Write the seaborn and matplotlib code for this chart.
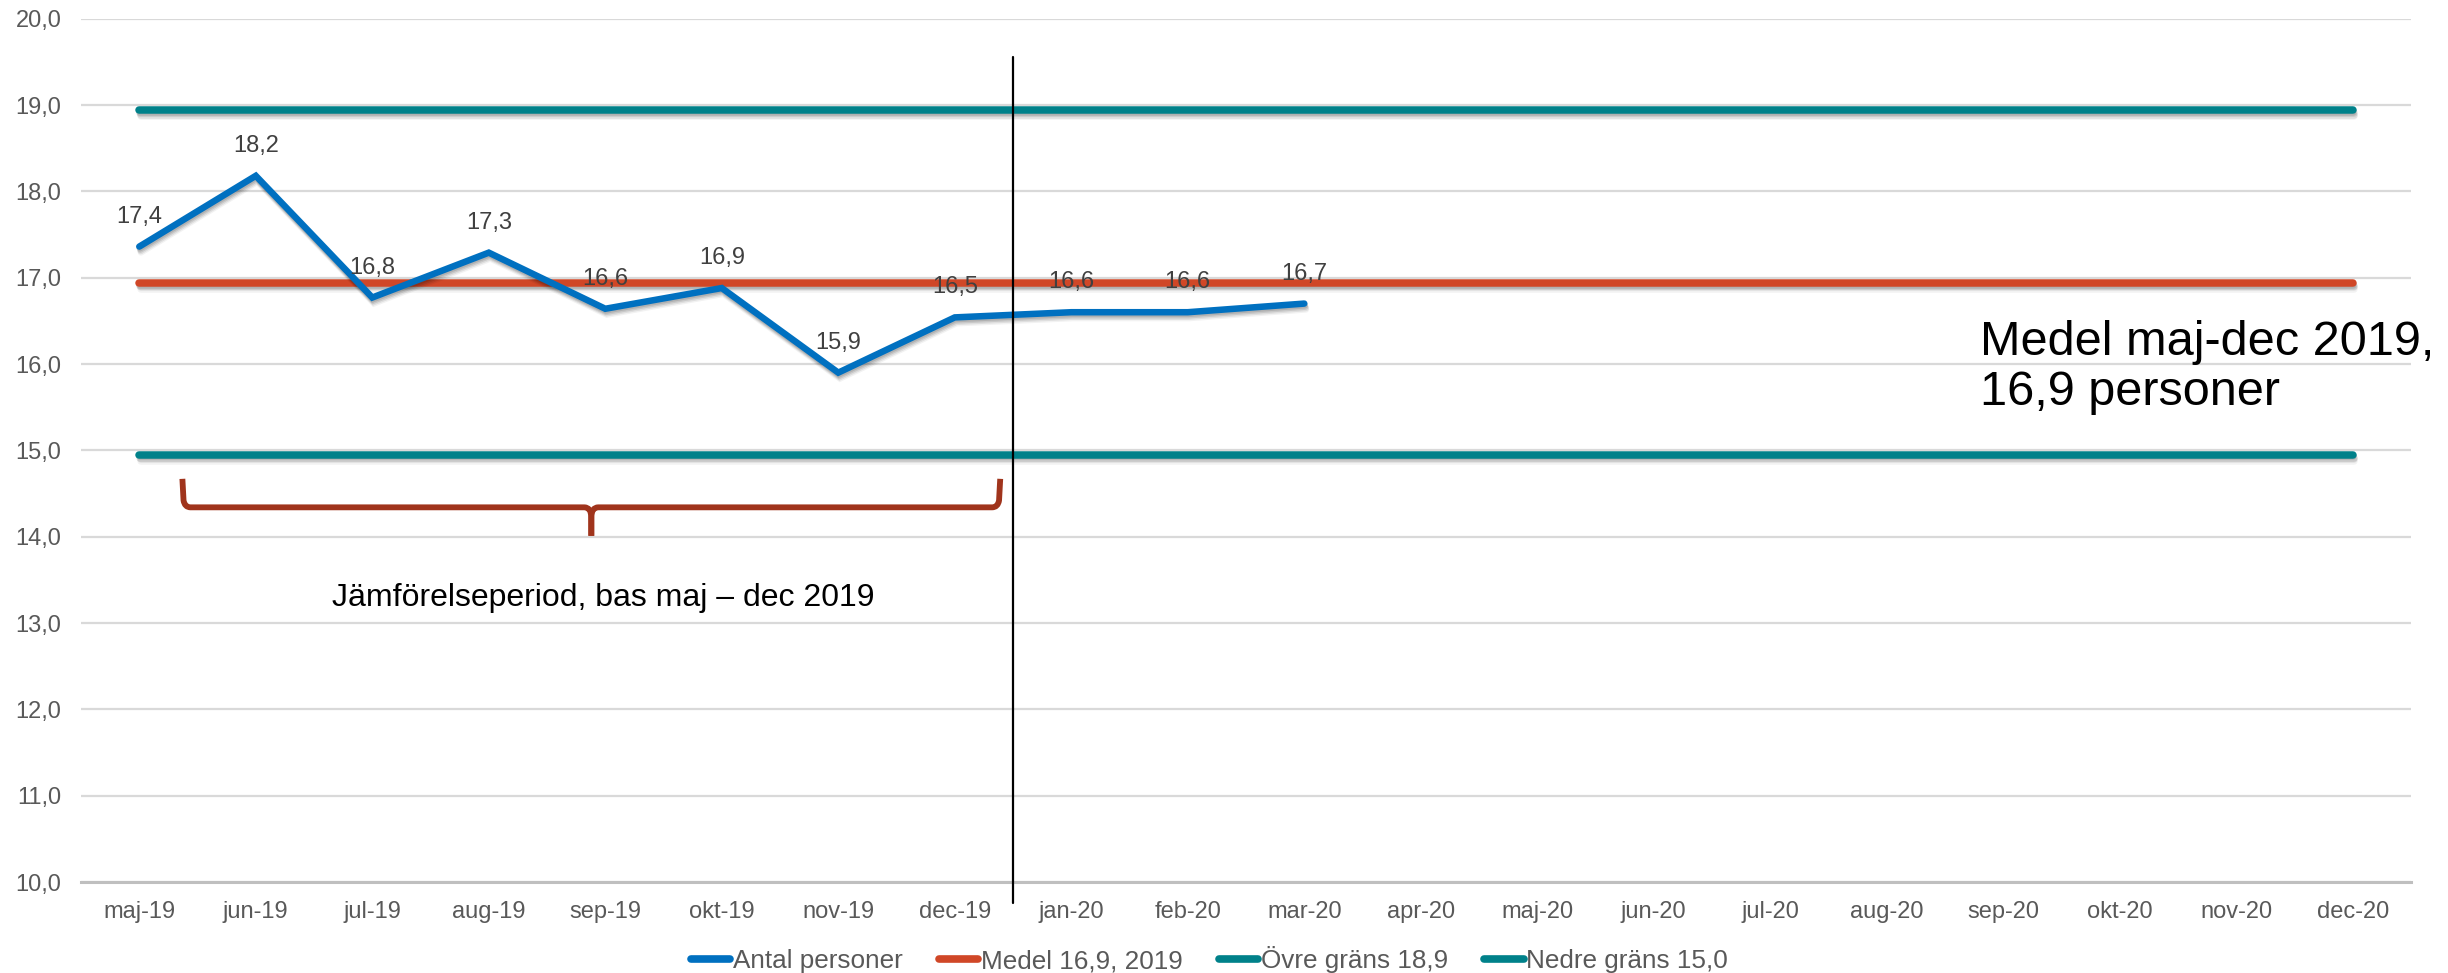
import numpy as np
import pandas as pd
import matplotlib
matplotlib.use("Agg")
import matplotlib.pyplot as plt
import matplotlib.patheffects as pe
from matplotlib.path import Path
from matplotlib.patches import PathPatch
from matplotlib.lines import Line2D
import seaborn as sns

# ---- data ----
months = ["maj-19", "jun-19", "jul-19", "aug-19", "sep-19", "okt-19", "nov-19", "dec-19",
          "jan-20", "feb-20", "mar-20", "apr-20", "maj-20", "jun-20", "jul-20", "aug-20",
          "sep-20", "okt-20", "nov-20", "dec-20"]
antal = [17.36, 18.18, 16.77, 17.29, 16.64, 16.88, 15.90, 16.54, 16.60, 16.60, 16.70]
medel = 16.94
ovre = 18.94
nedre = 14.95
series_names = ["Antal personer", "Medel 16,9, 2019", "Övre gräns 18,9", "Nedre gräns 15,0"]
yticks = [10, 11, 12, 13, 14, 15, 16, 17, 18, 19, 20]
brace_text = "Jämförelseperiod, bas maj – dec 2019"
medel_text = "Medel maj-dec 2019,\n16,9 personer"

# ---- style ----
sns.set_theme(style="white")
plt.rcParams['font.family'] = ['Liberation Sans', 'DejaVu Sans']

BLUE = "#0070C0"
RED = "#D04727"
TEAL = "#00818A"
BRACE = "#A0341C"
GRID = "#D9D9D9"
AXIS = "#BFBFBF"
TXT = "#595959"

fig = plt.figure(figsize=(24.48, 9.73), dpi=100)
ax = fig.add_axes([0.0331, 0.0935, 0.9518, 0.8873])

shadow = [pe.SimpleLineShadow(offset=(0.4, -1.2), shadow_color="black", alpha=0.11),
          pe.SimpleLineShadow(offset=(0.7, -2.2), shadow_color="black", alpha=0.10),
          pe.SimpleLineShadow(offset=(1.0, -3.2), shadow_color="black", alpha=0.08),
          pe.SimpleLineShadow(offset=(1.2, -4.2), shadow_color="black", alpha=0.05),
          pe.Normal()]

xpos = np.arange(len(months))
df_a = pd.DataFrame({"x": xpos[:len(antal)], "y": antal})
df_c = pd.DataFrame({"x": xpos,
                     "medel": [medel] * len(months),
                     "ovre": [ovre] * len(months),
                     "nedre": [nedre] * len(months)})

sns.lineplot(data=df_c, x="x", y="ovre", ax=ax, color=TEAL, lw=5.4,
             solid_capstyle="round", path_effects=shadow, zorder=3)
sns.lineplot(data=df_c, x="x", y="nedre", ax=ax, color=TEAL, lw=5.4,
             solid_capstyle="round", path_effects=shadow, zorder=3)
sns.lineplot(data=df_c, x="x", y="medel", ax=ax, color=RED, lw=5.4,
             solid_capstyle="round", path_effects=shadow, zorder=3)
sns.lineplot(data=df_a, x="x", y="y", ax=ax, color=BLUE, lw=4.7,
             solid_capstyle="round", solid_joinstyle="miter", path_effects=shadow, zorder=4)

# data labels
for xi, v in zip(df_a["x"], df_a["y"]):
    ax.annotate(f"{v:.1f}".replace(".", ","), (xi, v), xytext=(0, 21.6),
                textcoords="offset points", ha="center", va="center",
                fontsize=17, color="#404040", zorder=6)

# axes
ax.set_xlim(-0.5, len(months) - 0.5)
ax.set_ylim(10, 20)
ax.set_yticks(yticks)
ax.set_yticklabels([f"{v:.1f}".replace(".", ",") for v in yticks])
ax.set_xticks(xpos)
ax.set_xticklabels(months)
ax.set_xticks(np.arange(len(months) + 1) - 0.5, minor=True)
ax.tick_params(axis="x", which="major", length=0, pad=14, labelsize=17, labelcolor=TXT)
ax.tick_params(axis="x", which="minor", length=6, width=2, color=AXIS, direction="out")
ax.tick_params(axis="y", length=0, pad=14, labelsize=17, labelcolor=TXT)
ax.set_xlabel("")
ax.set_ylabel("")
ax.grid(axis="y", color=GRID, lw=1.6, zorder=0)
ax.set_axisbelow(True)
for s in ["left", "right", "top"]:
    ax.spines[s].set_visible(False)
ax.spines["bottom"].set_color(AXIS)
ax.spines["bottom"].set_linewidth(2.2)

# vertical divider
ax.plot([7.5, 7.5], [19.56, 9.76], color="black", lw=1.6, clip_on=False, zorder=5)

# brace
xl, xr, xm = 0.37, 7.39, 3.88
ytop, yh, ytip = 14.67, 14.34, 14.01
verts_l = [(xl, ytop), (xl + 0.01, yh + 0.08), (xl + 0.02, yh), (xl + 0.07, yh),
           (xm - 0.06, yh), (xm, yh), (xm, yh - 0.12), (xm, ytip)]
codes = [Path.MOVETO, Path.LINETO, Path.CURVE3, Path.CURVE3,
         Path.LINETO, Path.CURVE3, Path.CURVE3, Path.LINETO]
verts_r = [(xr, ytop), (xr - 0.01, yh + 0.08), (xr - 0.02, yh), (xr - 0.07, yh),
           (xm + 0.06, yh), (xm, yh), (xm, yh - 0.12), (xm, ytip)]
for verts in (verts_l, verts_r):
    ax.add_patch(PathPatch(Path(verts, codes), fill=False, edgecolor=BRACE,
                           lw=4.2, capstyle="butt", joinstyle="round", zorder=5))

ax.text(3.98, 13.29, brace_text, ha="center", va="center", fontsize=23, color="black")
ax.text(15.8, 15.96, medel_text, ha="left", va="center", fontsize=35, color="black",
        linespacing=1.15)

# legend
handles = [Line2D([0], [0], color=c, lw=5.5, solid_capstyle="round")
           for c in [BLUE, RED, TEAL, TEAL]]
fig.legend(handles, series_names, loc="center", bbox_to_anchor=(0.494, 0.0135),
           ncol=4, frameon=False, fontsize=18.8, handlelength=1.5, handletextpad=0.1,
           columnspacing=1.4, labelcolor=TXT)

fig.savefig("out.png", dpi=100)
